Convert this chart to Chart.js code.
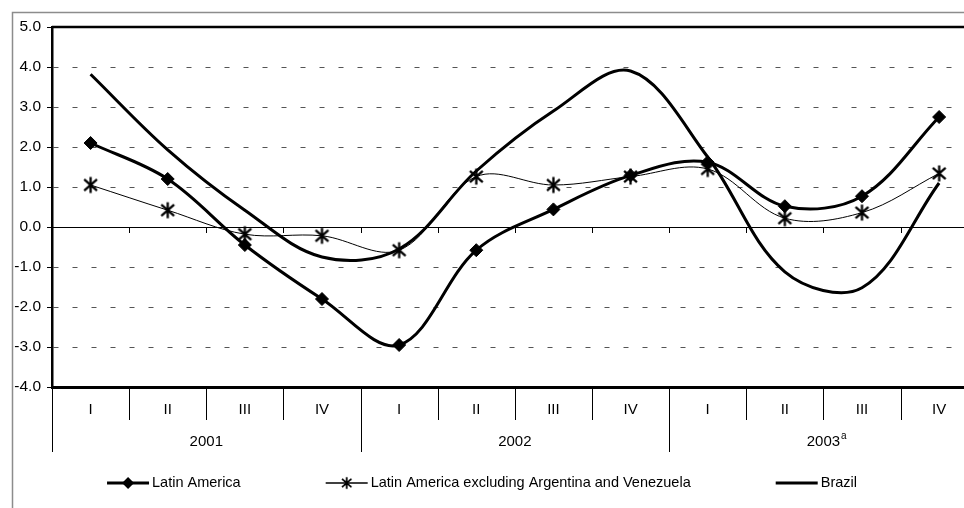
<!DOCTYPE html>
<html>
<head>
<meta charset="utf-8">
<script src="https://cdn.jsdelivr.net/npm/chart.js@4.4.0/dist/chart.umd.min.js"></script>
<style>
  html, body { margin: 0; padding: 0; background: #fff; overflow: hidden; }
  #wrap { position: relative; width: 990px; height: 508px; }
</style>
</head>
<body>
<div id="wrap"><canvas id="chart"></canvas></div>
<script>
// Données
const quarters = ['I', 'II', 'III', 'IV', 'I', 'II', 'III', 'IV', 'I', 'II', 'III', 'IV'];
const years = ['2001', '2002', '2003'];
const yearNotes = ['', '', 'a'];
const latinAmerica = [2.1, 1.2, -0.45, -1.8, -2.95, -0.58, 0.44, 1.29, 1.62, 0.52, 0.77, 2.75];
const latinAmericaExcl = [1.05, 0.42, -0.18, -0.22, -0.58, 1.26, 1.05, 1.26, 1.45, 0.22, 0.36, 1.34];
const brazil = [3.82, 1.93, 0.42, -0.75, -0.55, 1.4, 2.9, 3.9, 1.75, -1.12, -1.52, 1.1];
const seriesNames = ['Latin America', 'Latin America excluding Argentina and Venezuela', 'Brazil'];

const FONT = '"Liberation Sans", Arial, sans-serif';

// Marqueur étoile façon Excel (X + barre verticale)
function makeStar(size) {
    const c = document.createElement('canvas');
    c.width = size;
    c.height = size;
    const g = c.getContext('2d');
    const m = size / 2;
    const r = size / 2 - 1.5;
    g.strokeStyle = '#000';
    g.lineWidth = 2.3;
    g.beginPath();
    g.moveTo(m, m - r); g.lineTo(m, m + r);
    g.moveTo(m - r * 0.8, m - r * 0.7); g.lineTo(m + r * 0.8, m + r * 0.7);
    g.moveTo(m + r * 0.8, m - r * 0.7); g.lineTo(m - r * 0.8, m + r * 0.7);
    g.stroke();
    return c;
}
const starImg = makeStar(19);

function drawDiamond(ctx, x, y, r) {
    ctx.beginPath();
    ctx.moveTo(x, y - r);
    ctx.lineTo(x + r, y);
    ctx.lineTo(x, y + r);
    ctx.lineTo(x - r, y);
    ctx.closePath();
    ctx.fill();
}

// Cadre, axe des catégories à deux niveaux, légende
const decorPlugin = {
    id: 'decor',
    beforeDatasetsDraw(chart) {
        const { ctx, chartArea: a, scales: { x, y } } = chart;
        const y0 = y.getPixelForValue(0);
        const half = (x.getPixelForValue(1) - x.getPixelForValue(0)) / 2;
        ctx.save();
        ctx.strokeStyle = '#000';
        ctx.lineWidth = 1;
        ctx.beginPath();
        ctx.moveTo(a.left, y0 + 0.5);
        ctx.lineTo(a.right, y0 + 0.5);
        for (let i = 1; i < quarters.length; i++) {
            const px = Math.round(x.getPixelForValue(i) - half) + 0.5;
            ctx.moveTo(px, y0);
            ctx.lineTo(px, y0 + 6);
        }
        ctx.stroke();
        ctx.restore();
    },
    afterDraw(chart) {
        const { ctx, chartArea: a, scales: { x } } = chart;
        const half = (x.getPixelForValue(1) - x.getPixelForValue(0)) / 2;
        ctx.save();

        // cadre extérieur gris
        ctx.strokeStyle = '#8c8c8c';
        ctx.lineWidth = 1.5;
        ctx.beginPath();
        ctx.moveTo(12.5, chart.height);
        ctx.lineTo(12.5, 12.5);
        ctx.lineTo(chart.width, 12.5);
        ctx.stroke();

        // bord supérieur de la zone de tracé
        ctx.strokeStyle = '#000';
        ctx.lineWidth = 2.5;
        ctx.beginPath();
        ctx.moveTo(a.left, a.top);
        ctx.lineTo(a.right, a.top);
        ctx.stroke();

        // séparateurs trimestres / années
        ctx.lineWidth = 1;
        ctx.beginPath();
        for (let i = 0; i <= quarters.length; i++) {
            const px = Math.round(x.getPixelForValue(i) - half) + 0.5;
            const len = (i % 4 === 0) ? 65 : 33;
            ctx.moveTo(px, a.bottom);
            ctx.lineTo(px, a.bottom + len);
        }
        ctx.stroke();

        ctx.fillStyle = '#000';
        ctx.textAlign = 'center';
        ctx.textBaseline = 'middle';
        ctx.font = '15px ' + FONT;
        quarters.forEach((q, i) => {
            ctx.fillText(q, x.getPixelForValue(i), a.bottom + 23);
        });
        years.forEach((yr, k) => {
            const cx = (x.getPixelForValue(k * 4) + x.getPixelForValue(k * 4 + 3)) / 2;
            ctx.font = '15px ' + FONT;
            ctx.textAlign = 'center';
            ctx.fillText(yr, cx, a.bottom + 55);
            if (yearNotes[k]) {
                const w = ctx.measureText(yr).width;
                ctx.font = '10px ' + FONT;
                ctx.textAlign = 'left';
                ctx.fillText(yearNotes[k], cx + w / 2 + 1, a.bottom + 49);
            }
        });

        // légende
        ctx.font = '14.5px ' + FONT;
        ctx.textAlign = 'left';
        const lineLen = 42, textGap = 3, itemGap = 85;
        const widths = seriesNames.map(n => lineLen + textGap + ctx.measureText(n).width);
        const total = widths.reduce((s, w) => s + w, 0) + itemGap * (seriesNames.length - 1);
        let lx = 482 - total / 2;
        const ly = 483;
        seriesNames.forEach((name, i) => {
            const ds = chart.data.datasets[i];
            ctx.strokeStyle = '#000';
            ctx.lineWidth = Math.max(ds.borderWidth, 1.5);
            ctx.beginPath();
            ctx.moveTo(lx, ly);
            ctx.lineTo(lx + lineLen, ly);
            ctx.stroke();
            const mx = lx + lineLen / 2;
            if (i === 0) drawDiamond(ctx, mx, ly, 6);
            if (i === 1) ctx.drawImage(starImg, mx - 7, ly - 7, 14, 14);
            ctx.fillText(name, lx + lineLen + textGap, ly);
            lx += widths[i] + itemGap;
        });
        ctx.restore();
    }
};

new Chart(document.getElementById('chart'), {
    type: 'line',
    data: {
        labels: quarters,
        datasets: [
            {
                label: seriesNames[0],
                data: latinAmerica,
                borderColor: '#000',
                backgroundColor: '#000',
                borderWidth: 3,
                pointStyle: 'rectRot',
                pointRadius: 6.5,
                pointBorderWidth: 1,
                tension: 0.35
            },
            {
                label: seriesNames[1],
                data: latinAmericaExcl,
                borderColor: '#000',
                backgroundColor: '#000',
                borderWidth: 1,
                pointStyle: starImg,
                pointRadius: 8,
                tension: 0.35
            },
            {
                label: seriesNames[2],
                data: brazil,
                borderColor: '#000',
                borderWidth: 3,
                pointRadius: 0,
                tension: 0.35
            }
        ]
    },
    options: {
        responsive: true,
        maintainAspectRatio: false,
        animation: false,
        events: [],
        layout: { padding: { left: 12, right: 12.3, top: 27, bottom: 0 } },
        plugins: {
            legend: { display: false },
            tooltip: { enabled: false }
        },
        scales: {
            x: {
                type: 'category',
                offset: true,
                grid: { display: false },
                ticks: { display: false },
                border: { display: true, color: '#000', width: 3 },
                afterFit: (scale) => { scale.height = 121; }
            },
            y: {
                min: -4,
                max: 5,
                ticks: {
                    stepSize: 1,
                    color: '#000',
                    padding: 6,
                    font: { size: 15.5, family: FONT },
                    callback: (v) => v.toFixed(1)
                },
                grid: {
                    color: '#555',
                    lineWidth: 1,
                    drawTicks: true,
                    tickLength: 5,
                    tickColor: '#000',
                    tickWidth: 1
                },
                border: { display: true, color: '#000', width: 2.5, dash: [5, 14] },
                afterFit: (scale) => { scale.width = 40; }
            }
        }
    },
    plugins: [decorPlugin]
});
</script>
</body>
</html>
